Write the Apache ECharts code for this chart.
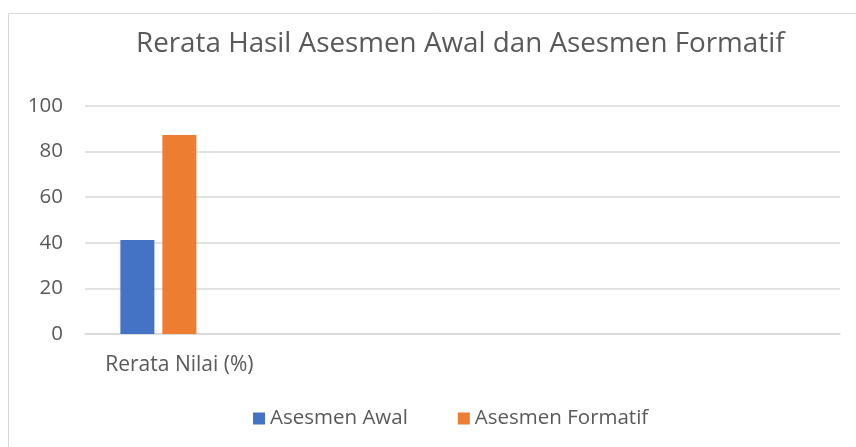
<!DOCTYPE html>
<html>
<head>
<meta charset="utf-8">
<script src="https://cdn.jsdelivr.net/npm/echarts@6/dist/echarts.min.js"></script>
<style>html,body{margin:0;padding:0;background:#fff}#c{width:856px;height:447px}</style>
</head>
<body>
<div id="c"></div>
<script>
var categories = ['Rerata Nilai (%)', '', '', ''];
var seriesNames = ['Asesmen Awal', 'Asesmen Formatif', ''];
var asesmenAwal = [41.2, null, null, null];
var asesmenFormatif = [87.3, null, null, null];
var emptySeries = [null, null, null, null];
var yTicks = { min: 0, max: 100, interval: 20 };

var FONT = 'Open Sans';
var chart = echarts.init(document.getElementById('c'), null, { renderer: 'canvas' });
chart.setOption({
  animation: false,
  backgroundColor: '#ffffff',
  graphic: [{
    type: 'rect', shape: { x: 8.5, y: 13.5, width: 900, height: 500 },
    style: { fill: 'none', stroke: '#d9d9d9', lineWidth: 1 }, silent: true
  }],
  title: {
    text: 'Rerata Hasil Asesmen Awal dan Asesmen Formatif',
    left: 131, top: 25,
    textStyle: { fontFamily: FONT, fontSize: 27.8, fontWeight: 'normal', color: '#595959' }
  },
  legend: {
    data: [seriesNames[0], seriesNames[1]],
    bottom: 13, left: 248,
    icon: 'rect', itemWidth: 12, itemHeight: 12, itemGap: 50,
    textStyle: { fontFamily: FONT, fontSize: 20.5, color: '#595959' }
  },
  grid: { left: 85, right: 16, top: 106, bottom: 113, containLabel: false },
  xAxis: {
    type: 'category', data: categories,
    axisLine: { show: true, lineStyle: { color: '#d9d9d9', width: 1.5 } },
    axisTick: { show: false },
    axisLabel: { fontFamily: FONT, fontSize: 21, color: '#595959', margin: 21 }
  },
  yAxis: {
    type: 'value', min: yTicks.min, max: yTicks.max, interval: yTicks.interval,
    axisLine: { show: false }, axisTick: { show: false },
    axisLabel: { fontFamily: FONT, fontSize: 20.5, color: '#595959', margin: 22 },
    splitLine: { lineStyle: { color: '#d9d9d9', width: 1.5 } }
  },
  series: [
    { name: seriesNames[0], type: 'bar', data: asesmenAwal, barWidth: 34, barGap: '23.5%', itemStyle: { color: '#4472C4' } },
    { name: seriesNames[1], type: 'bar', data: asesmenFormatif, barWidth: 34, barGap: '23.5%', itemStyle: { color: '#ED7D31' } },
    { name: seriesNames[2], type: 'bar', data: emptySeries, barWidth: 34, barGap: '23.5%', itemStyle: { color: '#A5A5A5' } }
  ]
});
</script>
</body>
</html>
